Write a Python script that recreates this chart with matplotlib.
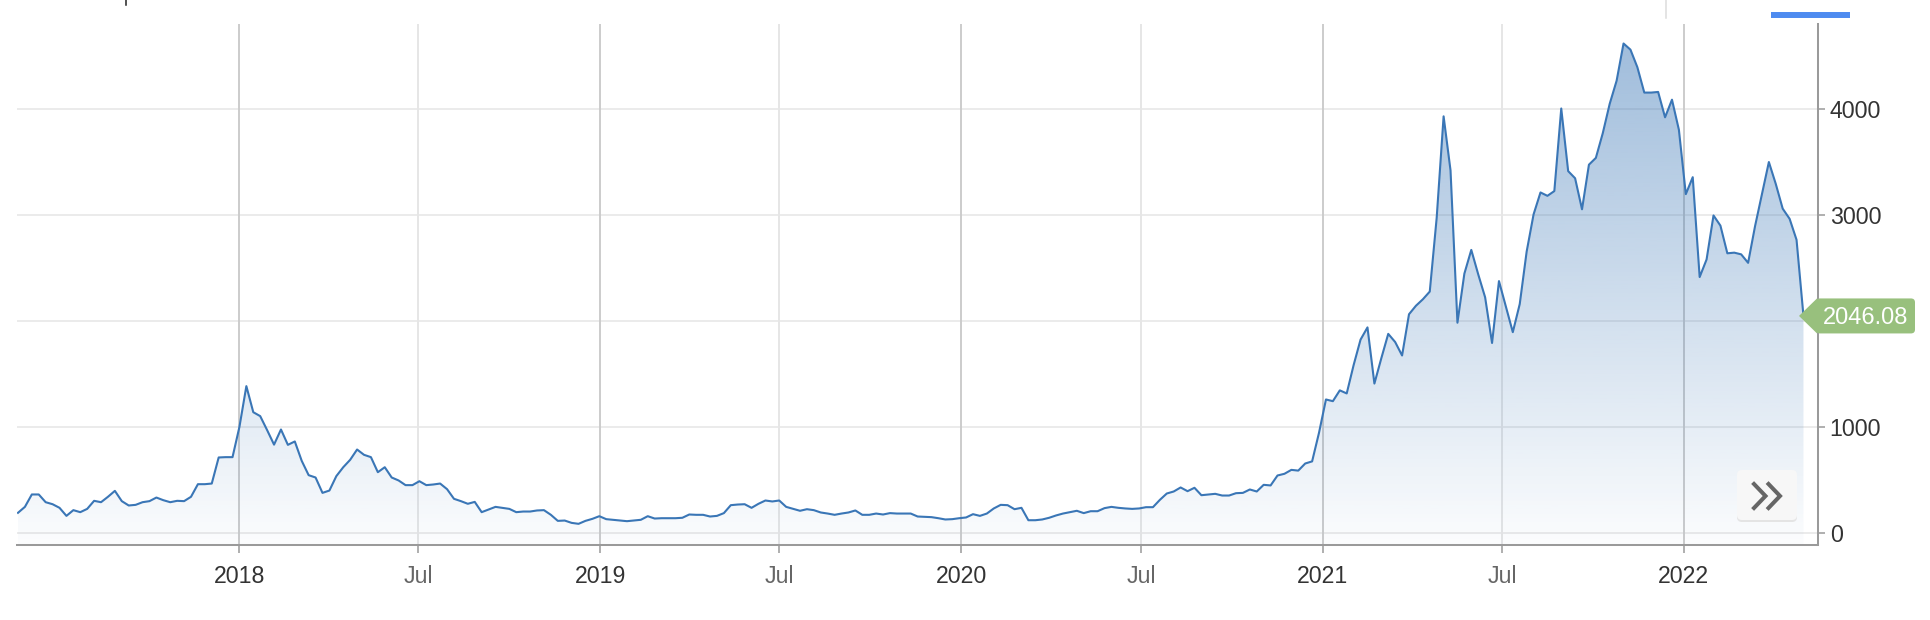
import matplotlib
matplotlib.use('Agg')
import matplotlib.pyplot as plt
import matplotlib.dates as mdates
import matplotlib.transforms as mtransforms
from matplotlib.patches import Polygon, FancyBboxPatch
from matplotlib.lines import Line2D
import numpy as np
import pandas as pd

plt.rcParams['font.family'] = ['Liberation Sans', 'DejaVu Sans']

# weekly closing prices
start_date = '2017-05-22'
prices = [
    189, 245, 362, 362, 289, 270, 236, 160, 214, 195, 226, 302, 289, 340, 396, 299,
    258, 264, 289, 299, 333, 308, 289, 302, 299, 340, 459, 459, 465, 711, 714, 714,
    1000, 1384, 1138, 1101, 969, 832, 975, 830, 862, 679, 544, 522, 377, 399, 535,
    619, 689, 786, 736, 714, 572, 619, 522, 494, 450, 450, 487, 450, 456, 465, 412,
    321, 299, 274, 292, 195, 220, 245, 236, 226, 195, 201, 201,
    211, 214, 170, 113, 116, 94, 85, 113, 132, 157, 129, 123, 116, 110, 116, 123,
    157, 135, 138, 138, 138, 142, 173, 170, 170, 154, 160, 186, 261, 267, 270, 236,
    274, 305, 296, 305, 245,
    226, 208, 223, 214, 192, 182, 170, 182, 192, 211, 170, 170, 182, 173, 186, 182,
    182, 182, 154, 151, 148, 138, 126, 129, 138, 145, 176, 160, 182, 230, 264, 261,
    223, 236, 119, 119,
    126, 142, 164, 182, 195, 208, 186, 204, 204, 233, 245, 236, 230, 226, 230, 242,
    242, 311, 371, 390, 428, 393, 425, 355, 362, 368, 352, 352, 374, 377, 409, 390,
    453, 447, 541, 557, 594,
    587, 654, 674, 945, 1258, 1242, 1344, 1315, 1583, 1823, 1938, 1408, 1647, 1877,
    1800, 1673, 2062, 2142, 2203, 2276, 2972, 3929, 3419, 1982, 2445, 2669, 2439,
    2222, 1791, 2375, 2132, 1893, 2158, 2653, 3004, 3211, 3179, 3224,
    4003, 3412, 3345, 3052, 3473, 3537, 3770, 4047, 4265, 4616, 4558, 4392, 4153,
    4153, 4159, 3920, 4086, 3802, 3195, 3355, 2413, 2579, 2994, 2898, 2637, 2643,
    2627, 2547, 2892, 3195, 3498, 3291, 3058, 2962, 2764, 2046.08,
]
dates = pd.date_range(start_date, periods=len(prices), freq='7D')

tick_dates = ['2018-01-01', '2018-07-01', '2019-01-01', '2019-07-01', '2020-01-01',
              '2020-07-01', '2021-01-01', '2021-07-01', '2022-01-01']
tick_labels = ['2018', 'Jul', '2019', 'Jul', '2020', 'Jul', '2021', 'Jul', '2022']
y_ticks = [0, 1000, 2000, 3000, 4000]
y_labels = ['0', '1000', '', '3000', '4000']
last_label = '2046.08'

line_color = '#3a76b6'
W, H = 1930, 620

fig = plt.figure(figsize=(W / 100, H / 100), dpi=100)
ax = fig.add_axes([17 / W, 1 - 544.5 / H, (1818.3 - 17) / W, (544.5 - 24) / H])

x_num = mdates.date2num(dates)
x0, x1 = mdates.date2num(pd.Timestamp('2017-05-21')), mdates.date2num(pd.Timestamp('2022-05-17'))
y0, y1 = -110, 4800

# grid lines
for y in y_ticks:
    ax.axhline(y, color='#e6e6e6', lw=1.1, zorder=0.5)
for d, lab in zip(tick_dates, tick_labels):
    ax.axvline(mdates.date2num(pd.Timestamp(d)), color='#e6e6e6' if lab == 'Jul' else '#cccccc',
               lw=1.4, zorder=0.5)

# gradient area fill
fill = ax.fill_between(x_num, prices, y0, facecolor='none', edgecolor='none')
rgb = matplotlib.colors.to_rgb(line_color)
grad = np.zeros((256, 1, 4))
grad[..., 0], grad[..., 1], grad[..., 2] = rgb
grad[:, 0, 3] = np.linspace(0.02, 0.5, 256)
im = ax.imshow(grad, extent=[x0, x1, y0, y1], origin='lower', aspect='auto',
               interpolation='bilinear', zorder=1)
im.set_clip_path(fill.get_paths()[0], transform=ax.transData)

ax.plot(x_num, prices, color=line_color, lw=1.5, zorder=2)

ax.set_xlim(x0, x1)
ax.set_ylim(y0, y1)

for s in ['left', 'top']:
    ax.spines[s].set_visible(False)
for s in ['bottom', 'right']:
    ax.spines[s].set_color('#9a9a9a')
    ax.spines[s].set_linewidth(1.45)

ax.set_xticks([mdates.date2num(pd.Timestamp(d)) for d in tick_dates])
ax.set_xticklabels(tick_labels)
for t, lab in zip(ax.get_xticklabels(), tick_labels):
    t.set_color('#666666' if lab == 'Jul' else '#333333')
ax.tick_params(axis='x', direction='out', length=6, width=1.1, color='#9a9a9a',
               pad=8.5, labelsize=16.7)

ax.yaxis.tick_right()
ax.set_yticks(y_ticks)
ax.set_yticklabels(y_labels)
ax.tick_params(axis='y', direction='out', length=5, width=1.1, color='#9a9a9a',
               pad=3.2, labelsize=16.7, labelcolor='#333333')

# pixel coordinates measured from the top-left corner
px = mtransforms.Affine2D().scale(1 / 100, -1 / 100).translate(0, H / 100) + fig.dpi_scale_trans

# last value tag
yt = H - ax.transData.transform((x1, prices[-1]))[1]
tag_col = '#98c07d'
fig.add_artist(FancyBboxPatch((1816, yt - 17.5), 99, 35, boxstyle='round,pad=0,rounding_size=4',
                              transform=px, facecolor=tag_col, edgecolor='none', zorder=10))
fig.add_artist(Polygon([(1799, yt), (1817, yt - 17.5), (1817, yt + 17.5)], closed=True,
                       transform=px, facecolor=tag_col, edgecolor='none', zorder=10))
fig.text(1866 / W, 1 - yt / H, last_label, color='white', fontsize=17,
         ha='center', va='center_baseline', zorder=11)

# navigation button
fig.add_artist(FancyBboxPatch((1737, 472), 60, 50, boxstyle='round,pad=0,rounding_size=5',
                              transform=px, facecolor='#e4e4e4', edgecolor='none', zorder=9))
fig.add_artist(FancyBboxPatch((1737, 470), 60, 50, boxstyle='round,pad=0,rounding_size=5',
                              transform=px, facecolor='#f7f7f7', edgecolor='none', zorder=10))
for dx in (0, 14.5):
    fig.add_artist(Line2D([1754 + dx, 1765.5 + dx, 1754 + dx], [484, 496, 508], transform=px,
                          color='#666666', lw=2.9, solid_joinstyle='miter', zorder=11))

# bits of page chrome at the top edge
fig.add_artist(Line2D([1771, 1850], [15, 15], transform=px, color='#4e8bf0', lw=4.3,
                      solid_capstyle='butt'))
fig.add_artist(Line2D([1665.5, 1665.5], [0, 18], transform=px, color='#dddddd', lw=1.1))
fig.add_artist(Line2D([125.5, 125.5], [0, 5], transform=px, color='#222222', lw=1.1))

fig.savefig('out.png', dpi=100)
